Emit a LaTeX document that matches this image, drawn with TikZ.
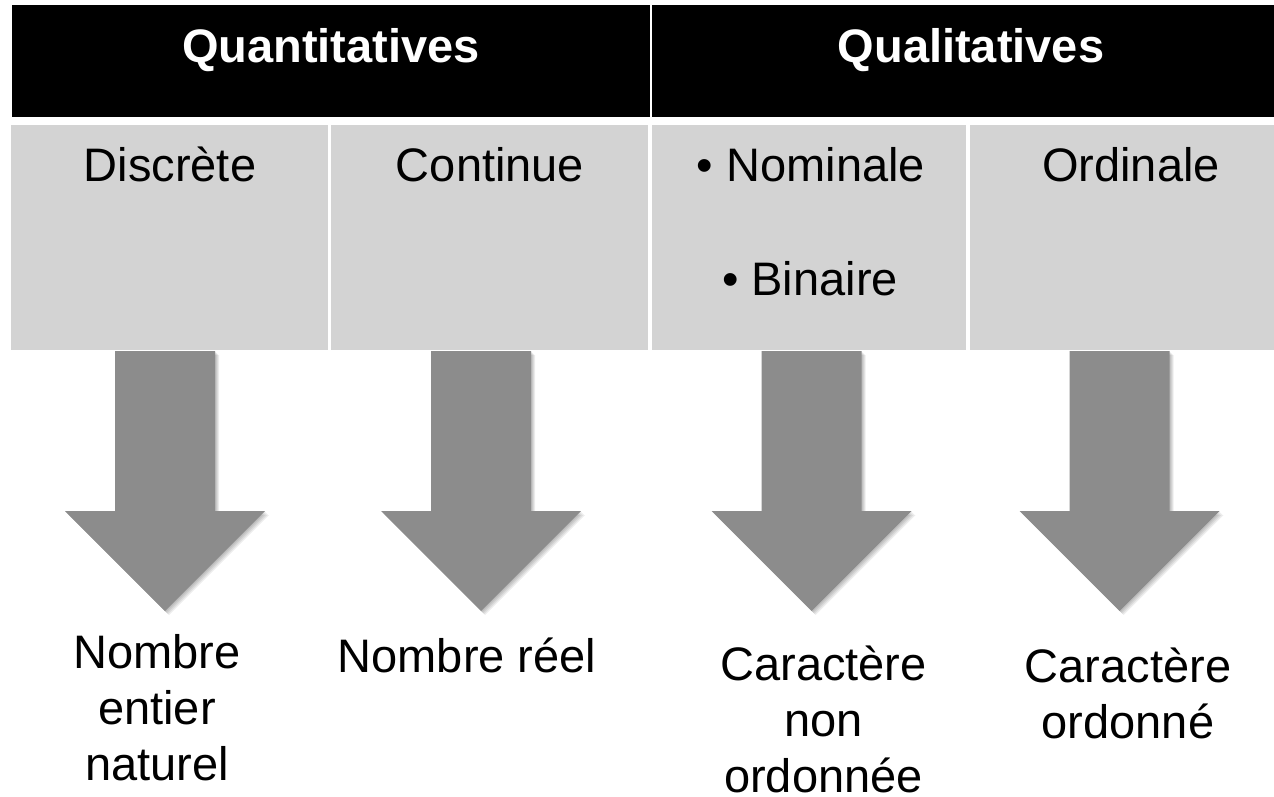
\documentclass[tikz,border=0pt]{standalone}
\usepackage{fontspec}
\setmainfont{Liberation Sans}
\definecolor{boxgray}{RGB}{211,211,211}
\definecolor{arrowgray}{RGB}{140,140,140}
\tikzset{
  downarrow/.pic={
    % soft shadow, offset to the lower right
    \foreach \s in {1,2,3,4}{
      \fill[black,opacity=0.07,shift={(\s,\s)}]
        (-50,0) -- (50,0) -- (50,160) -- (100,160) -- (0,260) -- (-100,160) -- (-50,160) -- cycle;
    }
    \fill[arrowgray]
      (-50,0) -- (50,0) -- (50,160) -- (100,160) -- (0,260) -- (-100,160) -- (-50,160) -- cycle;
  }
}
\begin{document}
\begin{tikzpicture}[x=1pt,y=-1pt,
  every node/.style={inner sep=0pt, outer sep=0pt},
  headbox/.style={fill=black, minimum height=112pt, anchor=north west},
  catbox/.style={fill=boxgray, minimum height=225pt, anchor=north west},
  headtext/.style={text=white, font=\fontsize{47}{56}\selectfont\bfseries, anchor=base},
  cattext/.style={font=\fontsize{47}{56}\selectfont, anchor=base},
  result/.style={font=\fontsize{47}{56}\selectfont, align=center, anchor=base},
]
\useasboundingbox (0,0) rectangle (1274,797);
\fill[white] (0,0) rectangle (1274,797);

% header row
\node[headbox, minimum width=638pt] (hquant) at (12,5) {};
\node[headbox, minimum width=638pt] (hqual) at (652,5) {};
\node[headtext] (tquant) at (331,63) {Quantitatives};
\node[headtext] (tqual) at (971,63) {Qualitatives};

% category row
\node[catbox, minimum width=317pt] (c1) at (11,125) {};
\node[catbox, minimum width=317pt] (c2) at (331,125) {};
\node[catbox, minimum width=314pt] (c3) at (652,125) {};
\node[catbox, minimum width=320pt] (c4) at (970,125) {};
\node[cattext] (t1) at (170,181) {Discrète};
\node[cattext] (t2) at (490,181) {Continue};
\node[cattext] (t3a) at (811,181) {• Nominale};
\node[cattext] (t3b) at (810,295) {• Binaire};
\node[cattext] (t4) at (1131,181) {Ordinale};

% block arrows
\pic (ar1) at (165,351) {downarrow};
\pic (ar2) at (481,351) {downarrow};
\pic (ar3) at (811.5,351) {downarrow};
\pic (ar4) at (1119.5,351) {downarrow};

% results (base anchor sits on the last line)
\node[result] (r1) at (157,780) {Nombre\\entier\\naturel};
\node[result] (r2) at (467,672) {Nombre réel};
\node[result] (r3) at (823.5,792) {Caractère\\non\\ordonnée};
\node[result] (r4) at (1128,738) {Caractère\\ordonné};
\end{tikzpicture}
\end{document}
